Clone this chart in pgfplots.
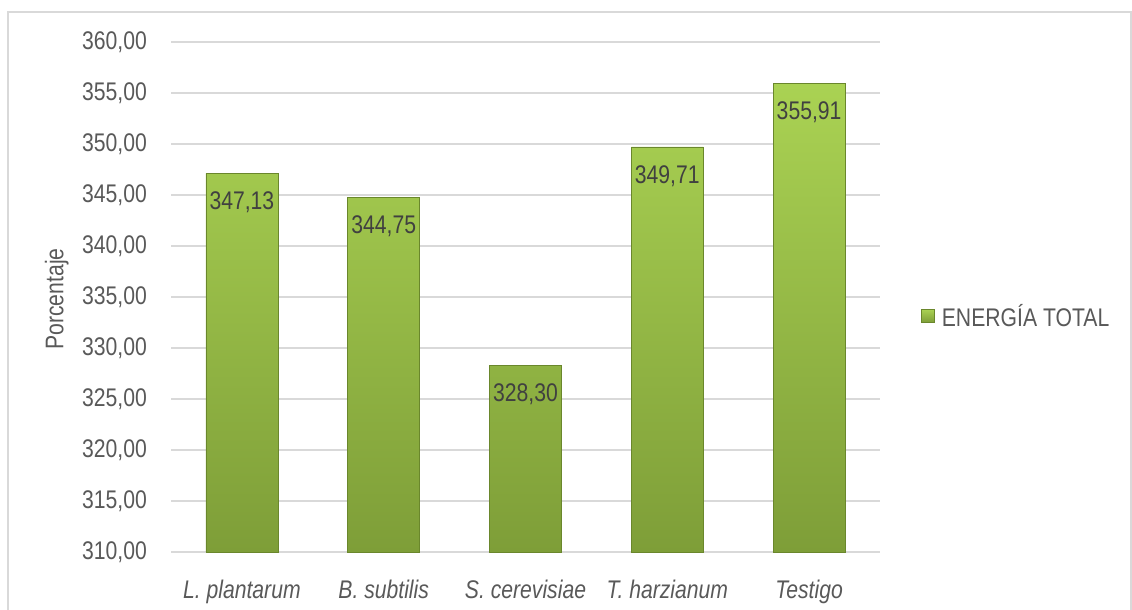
\documentclass[border=0pt]{standalone}
\usepackage{pgfplots}
\pgfplotsset{compat=1.18}
\usepackage{fontspec}
\setmainfont{Liberation Sans}[FakeStretch=0.83]
\definecolor{txt}{HTML}{595959}
\definecolor{lbl}{HTML}{404040}
\definecolor{grd}{HTML}{D9D9D9}
\definecolor{gtop}{HTML}{AAD253}
\definecolor{gmid}{HTML}{97C046}
\definecolor{gbot}{HTML}{7E9E38}
\definecolor{gedge}{HTML}{6A872C}
\begin{document}
\begin{tikzpicture}[font=\fontsize{25.5bp}{30bp}\selectfont]
\useasboundingbox (0,0) rectangle (1132bp,610bp);
\draw[grd, line width=1.5bp] (8bp,-2bp) -- (8bp,598bp) -- (1131bp,598bp) -- (1131bp,-2bp);
\begin{axis}[
  at={(171bp,58bp)}, anchor=south west,
  scale only axis, width=709bp, height=510bp,
  ybar, bar width=72bp,
  xmin=-0.5, xmax=4.5, ymin=310, ymax=360,
  ytick={310,315,...,360},
  xtick={0,1,2,3,4},
  xticklabels={\textit{L. plantarum},\textit{B. subtilis},\textit{S. cerevisiae},\textit{T. harzianum},\textit{Testigo}},
  /pgf/number format/assume math mode=true,
  yticklabel={\pgfmathprintnumber[fixed,fixed zerofill,precision=2,use comma]{\tick}},
  axis line style={draw=none},
  major tick length=0pt,
  ymajorgrids, grid style={grd, line width=1.5bp},
  yticklabel style={text=txt, anchor=east, inner sep=0pt, xshift=-24bp},
  xticklabel style={text=txt, anchor=north, inner sep=0pt, yshift=-28bp},
  ylabel={Porcentaje},
  ylabel style={text=txt, at={(axis description cs:-0.161,0.496)}, anchor=center},
  legend style={at={(axis description cs:1.058,0.463)}, anchor=west, draw=none, fill=none, inner sep=0pt, text=txt, nodes={inner sep=0pt}},
  legend image code/.code={\draw[draw=gedge, line width=0.5bp, top color=gtop, bottom color=gbot] (0bp,-6.5bp) rectangle (13bp,6.5bp); \path (20bp,0bp);},
  clip=false,
]
\addplot[draw=gedge, line width=0.6bp, top color=gtop, middle color=gmid, bottom color=gbot,
  nodes near coords={\pgfmathprintnumber[fixed,fixed zerofill,precision=2,use comma]{\pgfplotspointmeta}},
  every node near coord/.append style={text=lbl, anchor=north, inner sep=0pt, yshift=-18bp}]
  coordinates {(0,347.13) (1,344.75) (2,328.30) (3,349.71) (4,355.91)};
\addlegendentry{ENERGÍA TOTAL}
\end{axis}
\end{tikzpicture}
\end{document}
